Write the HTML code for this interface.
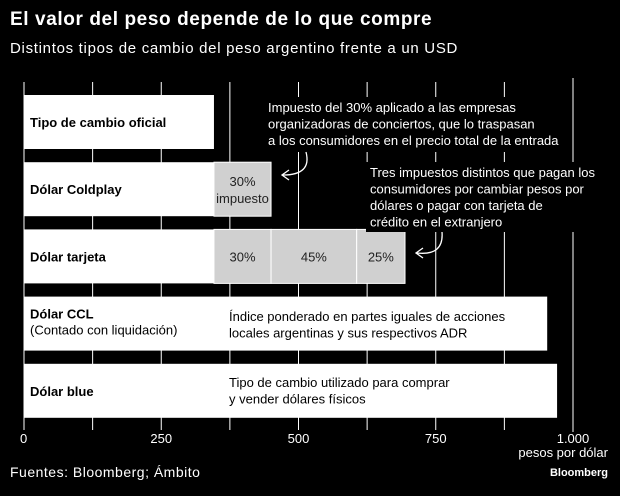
<!DOCTYPE html>
<html><head><meta charset="utf-8"><style>
body{margin:0;background:#000;width:620px;height:491px;overflow:hidden;font-family:"Liberation Sans",sans-serif;}
svg text{font-family:"Liberation Sans",sans-serif;}
</style></head><body>
<svg id="c" width="620" height="491">
<text x="10" y="25" fill="#fff" font-size="19" font-weight="bold" letter-spacing="0.6">El valor del peso depende de lo que compre</text>
<text x="10" y="53" fill="#fff" font-size="15" letter-spacing="0.7">Distintos tipos de cambio del peso argentino frente a un USD</text>
<g id="grid"></g><g id="bars"></g><g id="ann"></g>
<text x="10" y="477" fill="#fff" font-size="14" letter-spacing="0.5">Fuentes: Bloomberg; Ámbito</text>
<text x="608" y="476" fill="#fff" font-size="11" font-weight="bold" text-anchor="end">Bloomberg</text>
</svg>
<script>
const categories=["Tipo de cambio oficial","Dólar Coldplay","Dólar tarjeta","Dólar CCL","Dólar blue"];
const baseValues=[346,346,346,953,971];
const taxSegments=[[],[104],[104,156,88],[],[]];
const taxLabels=[[],["30%","impuesto"],["30%","45%","25%"],[],[]];
const ticks=[0,250,500,750,1000];
const tickLabels=["0","250","500","750","1.000"];
const NS="http://www.w3.org/2000/svg";
const x=v=>24+v*0.549;
const rowY=i=>95+i*67.2;
const bh=54;
function el(t,a,p){const e=document.createElementNS(NS,t);for(const k in a)e.setAttribute(k,a[k]);p.appendChild(e);return e;}
const g=document.getElementById('grid'),b=document.getElementById('bars'),an=document.getElementById('ann');
for(let v=0;v<=1000;v+=125){
 const l=el('line',{x1:x(v),x2:x(v),y1:v===1000?78:82,y2:v===1000?432:430,stroke:'#fff','stroke-width':1},g);
 
 
}
ticks.forEach((v,i)=>{const t=el('text',{x:x(v),y:443,fill:'#fff','font-size':13,'text-anchor':i===0?'start':'middle'},g);t.textContent=tickLabels[i];
 
 
 if(i===0)t.setAttribute('x',x(v)-4);});
const u=el('text',{x:608,y:457,fill:'#fff','font-size':13,'text-anchor':'end'},g);u.textContent='pesos por dólar';


categories.forEach((c,i)=>{
 const y=rowY(i);
 const r=el('rect',{x:x(0),y:y,width:x(baseValues[i])-x(0),height:bh,fill:'#fff'},b);
 
 
 let acc=baseValues[i];
 taxSegments[i].forEach((s,j)=>{
  const sr=el('rect',{x:x(acc),y:y,width:x(acc+s)-x(acc),height:bh,fill:'#d0d0d0',stroke:'#fff','stroke-width':1},b);
  
  
  const cx=(x(acc)+x(acc+s))/2;
  if(i===1){
   const t1=el('text',{x:cx,y:y+24,'font-size':13,'text-anchor':'middle',fill:'#222'},b);t1.textContent=taxLabels[i][0];
   const t2=el('text',{x:cx,y:y+41,'font-size':13,'text-anchor':'middle',fill:'#222'},b);t2.textContent=taxLabels[i][1];
  }else{
   const t=el('text',{x:cx,y:y+32,'font-size':13,'text-anchor':'middle',fill:'#222'},b);t.textContent=taxLabels[i][j];
  }
  acc+=s;
 });
 const lab=el('text',{x:30,y:i===3?y+22:y+32,'font-size':13,'font-weight':'bold',fill:'#000'},b);lab.textContent=c;
 
 
});
const s3=el('text',{x:30,y:rowY(3)+38,'font-size':13,fill:'#000'},b);s3.textContent='(Contado con liquidación)';
el('rect',{x:264,y:97,width:300,height:55,fill:'#000'},an);
el('rect',{x:366,y:162,width:246,height:70,fill:'#000'},an);
function lines(arr,x0,y0,fill,lh){arr.forEach((s,k)=>{const t=el('text',{x:x0,y:y0+k*lh,'font-size':13,fill:fill},an);t.textContent=s;});}
lines(["Impuesto del 30% aplicado a las empresas","organizadoras de conciertos, que lo traspasan","a los consumidores en el precio total de la entrada"],268,112,'#fff',16.5);
lines(["Tres impuestos distintos que pagan los","consumidores por cambiar pesos por","dólares o pagar con tarjeta de","crédito en el extranjero"],370,177,'#fff',16.5);
lines(["Índice ponderado en partes iguales de acciones","locales argentinas y sus respectivos ADR"],229,321,'#000',16.5);
lines(["Tipo de cambio utilizado para comprar","y vender dólares físicos"],229,387,'#000',16.5);
el('path',{d:'M306 152 Q312 175 283 175 M289 170 L282 175 L289 180',stroke:'#fff',fill:'none','stroke-width':1.3},an);
el('path',{d:'M442 232 Q444 256 417 253 M423 248 L416 253 L423 258',stroke:'#fff',fill:'none','stroke-width':1.3},an);
</script>
</body></html>
